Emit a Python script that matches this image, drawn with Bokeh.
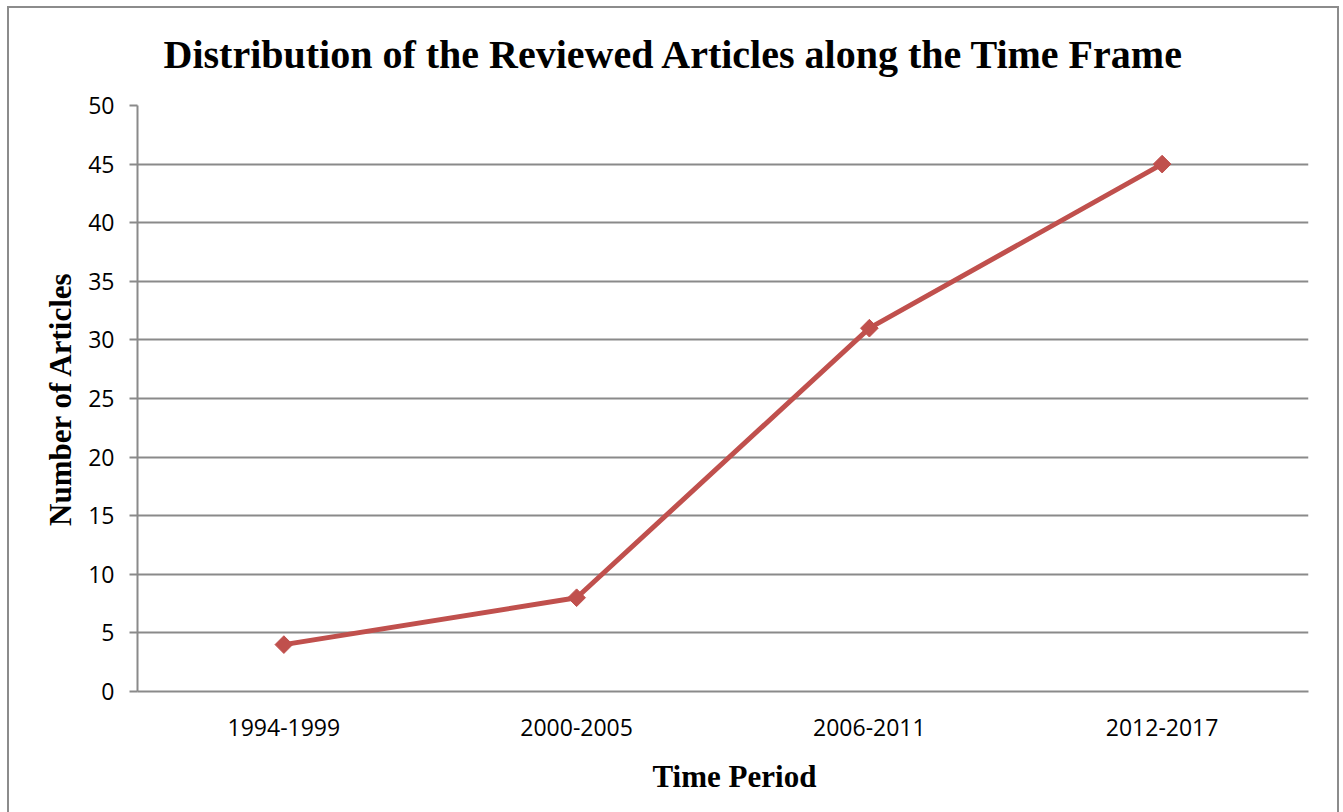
from bokeh.plotting import figure
from bokeh.models import Title, FactorRange, Range1d, SingleIntervalTicker
from bokeh.embed import file_html
from bokeh.resources import INLINE

periods = ["1994-1999", "2000-2005", "2006-2011", "2012-2017"]
articles = [4, 8, 31, 45]

title_text = "Distribution of the Reviewed Articles along the Time Frame"
x_title = "Time Period"
y_title = "Number of Articles"

GRID = "#8a8a8a"
RED = "#c0504d"

p = figure(width=1343, height=812, output_backend="svg", toolbar_location=None,
           x_range=FactorRange(*periods, range_padding=0, factor_padding=0),
           y_range=Range1d(0, 50),
           min_border_left=137, min_border_right=35, min_border_top=105, min_border_bottom=121)

p.styles = {
    "background-color": "white",
    "background-image": "linear-gradient(#8c8c8c,#8c8c8c), linear-gradient(#8c8c8c,#8c8c8c), linear-gradient(#8c8c8c,#8c8c8c)",
    "background-size": "2px 806px, 1332px 2px, 2px 806px",
    "background-position": "7px 6px, 7px 6px, 1337px 6px",
    "background-repeat": "no-repeat",
}
p.border_fill_alpha = 0
p.background_fill_color = "white"
p.outline_line_color = None

p.line(periods, articles, line_color=RED, line_width=5)
p.scatter(periods, articles, marker="square", angle=0.7854, size=12.5, fill_color=RED, line_color=RED)

p.yaxis.ticker = SingleIntervalTicker(interval=5)
p.yaxis.minor_tick_line_color = None
p.yaxis.major_tick_out = 8
p.yaxis.major_tick_in = 0
p.yaxis.major_label_standoff = 15
p.yaxis.axis_line_color = GRID
p.yaxis.axis_line_width = 2
p.yaxis.major_tick_line_color = GRID
p.yaxis.major_tick_line_width = 2
p.yaxis.major_label_text_font = "Open Sans"
p.yaxis.major_label_text_font_size = "23px"
p.yaxis.major_label_text_color = "black"
p.yaxis.axis_label = y_title
p.yaxis.axis_label_text_font = "Liberation Serif"
p.yaxis.axis_label_text_font_style = "bold"
p.yaxis.axis_label_text_font_size = "31px"
p.yaxis.axis_label_text_color = "black"
p.yaxis.axis_label_standoff = 7

p.xaxis.major_tick_line_color = None
p.xaxis.axis_line_color = GRID
p.xaxis.axis_line_width = 2
p.xaxis.major_label_standoff = 21
p.xaxis.major_label_text_font = "Open Sans"
p.xaxis.major_label_text_font_size = "23px"
p.xaxis.major_label_text_color = "black"

p.xgrid.grid_line_color = None
p.ygrid.grid_line_color = GRID
p.ygrid.grid_line_width = 2

p.add_layout(Title(text=title_text, align="left", offset=26, standoff=57,
                   text_font="Liberation Serif", text_font_style="bold",
                   text_font_size="40px", text_color="black"), "above")
p.add_layout(Title(text=x_title, align="left", offset=515, standoff=36,
                   text_font="Liberation Serif", text_font_style="bold",
                   text_font_size="31px", text_color="black"), "below")

open("out.html", "w").write(file_html(p, INLINE))
